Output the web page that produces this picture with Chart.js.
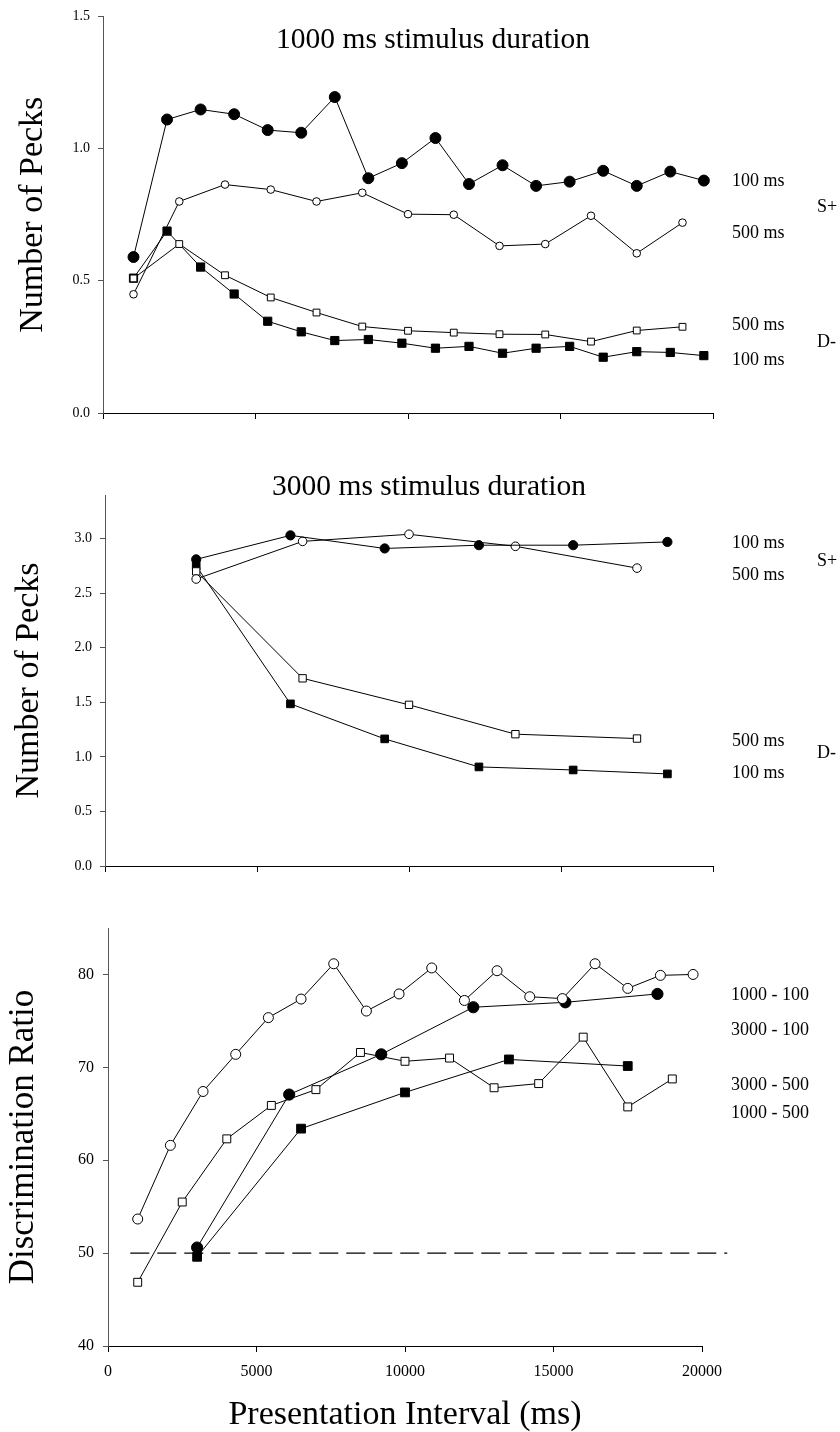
<!DOCTYPE html>
<html><head><meta charset="utf-8">
<script src="https://cdn.jsdelivr.net/npm/chart.js@4"></script>
<style>
body{margin:0;background:#fff;width:840px;height:1432px;position:relative;overflow:hidden;font-family:'Liberation Serif','Times New Roman',serif;color:#000;}
canvas{position:absolute;left:0;}
.lbl{position:absolute;font-size:18px;line-height:18px;white-space:nowrap;transform:translateY(-50%);}
.ttl{position:absolute;font-size:29.5px;line-height:30px;white-space:nowrap;transform:translate(-50%,-50%);}
</style></head><body>
<canvas id="cA" width="840" height="440" style="top:0px;width:840px;height:440px"></canvas>
<canvas id="cB" width="840" height="440" style="top:460px;width:840px;height:440px"></canvas>
<canvas id="cC" width="840" height="532" style="top:900px;width:840px;height:532px"></canvas>
<script>
// ---------- DATA ----------
// x positions (ms)
const xFine   = [1000,2100,3200,4300,5400,6500,7600,8700,9800,10900,12000,13100,14200,15300,16400,17500,18600,19700];
const xCoarse = [1000,2500,4000,5500,7000,8500,10000,11500,13000,14500,16000,17500,19000];
const xB100   = [3000,6100,9200,12300,15400,18500];
const xB500   = [3000,6500,10000,13500,17500];

// Panel A: 1000 ms stimulus duration (number of pecks)
const aSplus100 = [0.59,1.11,1.148,1.13,1.07,1.06,1.195,0.888,0.945,1.04,0.866,0.937,0.859,0.875,0.916,0.859,0.913,0.879];
const aSplus500 = [0.449,0.80,0.864,0.845,0.80,0.833,0.752,0.75,0.632,0.639,0.746,0.604,0.72];
const aDminus500 = [0.509,0.639,0.521,0.437,0.38,0.327,0.311,0.304,0.298,0.297,0.27,0.312,0.326];
const aDminus100 = [0.51,0.688,0.552,0.45,0.347,0.307,0.274,0.278,0.264,0.245,0.252,0.226,0.245,0.252,0.211,0.232,0.229,0.217];

// Panel B: 3000 ms stimulus duration (number of pecks)
const bSplus100 = [2.81,3.03,2.91,2.94,2.94,2.97];
const bSplus500 = [2.63,2.975,3.04,2.93,2.73];
const bDminus500 = [2.70,1.72,1.477,1.208,1.168];
const bDminus100 = [2.75,1.486,1.165,0.908,0.88,0.844];

// Panel C: discrimination ratio
const c1000_100 = [53.67,61.6,67.4,71.4,75.35,77.35,81.15,76.06,77.9,80.7,77.2,80.4,77.6,77.4,81.15,78.5,79.9,80.0];
const c1000_500 = [46.86,55.5,62.3,65.9,67.6,71.6,70.65,71.0,67.8,68.25,73.25,65.74,68.75];
const c3000_100 = [50.6,67.07,71.4,76.47,77.0,77.9];
const c3000_500 = [49.6,63.4,67.3,70.85,70.14];
const chanceX = [750,20850];
const chanceY = [50,50];

// tick labels
const xTicks  = [0,5000,10000,15000,20000];
const yTicksA = [0,0.5,1.0,1.5];
const yTicksB = [0,0.5,1.0,1.5,2.0,2.5,3.0];
const yTicksC = [40,50,60,70,80];

// texts
const titleA = '1000 ms stimulus duration';
const titleB = '3000 ms stimulus duration';
const yTitleAB = 'Number of Pecks';
const yTitleC = 'Discrimination Ratio';
const xTitleC = 'Presentation Interval (ms)';
const labelsA = ['100 ms','500 ms','S+','500 ms','100 ms','D-'];
const labelsB = ['100 ms','500 ms','S+','500 ms','100 ms','D-'];
const labelsC = ['1000 - 100','3000 - 100','3000 - 500','1000 - 500'];

// ---------- LAYOUT / STYLE ----------
const FONT = "'Liberation Serif','Times New Roman',serif";
const posA = [[732,180],[732,232],[817,206],[732,324],[732,359],[817,341]];
const posB = [[732,542],[732,574],[817,560],[732,740],[732,772],[817,752]];
const posC = [[731,994],[731,1029],[731,1084],[731,1112]];

function addText(cls, text, x, y){
  const d = document.createElement('div');
  d.className = cls; d.textContent = text;
  d.style.left = x + 'px'; d.style.top = y + 'px';
  document.body.appendChild(d);
}
labelsA.forEach((t,i)=>addText('lbl', t, posA[i][0], posA[i][1]));
labelsB.forEach((t,i)=>addText('lbl', t, posB[i][0], posB[i][1]));
labelsC.forEach((t,i)=>addText('lbl', t, posC[i][0], posC[i][1]));
addText('ttl', titleA, 433, 38);
addText('ttl', titleB, 429, 485);

function pts(xs, ys){ return xs.map((x,i)=>({x:x, y:ys[i]})); }
function series(xs, ys, shape, filled, r){
  return {
    data: pts(xs, ys), borderColor:'#000', borderWidth:1, fill:false, tension:0,
    pointStyle: shape, pointRadius: r, pointHoverRadius: r,
    pointBackgroundColor: filled ? '#000' : '#fff', pointBorderColor:'#000', pointBorderWidth:1
  };
}

function makeChart(id, cfg){
  const yAxisColor = '#555';
  new Chart(document.getElementById(id), {
    type:'line',
    data:{ datasets: cfg.datasets },
    options:{
      responsive:false, animation:false, events:[],
      layout:{ padding: cfg.padding },
      plugins:{ legend:{display:false}, tooltip:{enabled:false}, title:{display:false} },
      scales:{
        x:{
          type:'linear', min:0, max:20000,
          afterBuildTicks: s => { s.ticks = xTicks.map(v=>({value:v})); },
          afterFit: s => { s.height = cfg.xHeight; },
          border:{display:true, color:'#000', width:1},
          grid:{drawOnChartArea:false, drawTicks:true, tickLength:6, color:'#000', lineWidth:1},
          ticks:{display: cfg.xLabels, autoSkip:false, maxRotation:0, color:'#000', padding:10,
                 font:{family:FONT, size:16}, callback: v => String(v)},
          title: cfg.xTitle ? {display:true, text:cfg.xTitle, color:'#000',
                 font:{family:FONT, size:34, lineHeight:1}, padding:{top:0,bottom:0}} : {display:false}
        },
        y:{
          type:'linear', min:cfg.yMin, max:cfg.yMax,
          afterBuildTicks: s => { s.ticks = cfg.yTicks.map(v=>({value:v})); },
          afterFit: s => { s.width = cfg.yWidth; },
          border:{display:true, color:yAxisColor, width:1},
          grid:{drawOnChartArea:false, drawTicks:true, tickLength:5, color:yAxisColor, lineWidth:1},
          ticks:{autoSkip:false, color:'#000', padding:cfg.yPad, font:{family:FONT, size:cfg.yFont},
                 callback: cfg.yFmt},
          title:{display:true, text:cfg.yTitle, color:'#000',
                 font:{family:FONT, size:cfg.yTitleSize, lineHeight:1}, padding:{top:cfg.yTitlePad, bottom:0}}
        }
      }
    }
  });
}

makeChart('cA', {
  padding:{left:0, top:15, right:127, bottom:0}, xHeight:27, yWidth:103,
  xLabels:false, yMin:0, yMax:1.5, yTicks:yTicksA, yFont:14, yPad:8,
  yFmt: v => Number(v).toFixed(1), yTitle:yTitleAB, yTitleSize:34, yTitlePad:16,
  datasets:[
    series(xFine, aSplus100, 'circle', true, 5.5),
    series(xCoarse, aSplus500, 'circle', false, 3.8),
    series(xCoarse, aDminus500, 'rect', false, 4.8),
    series(xFine, aDminus100, 'rect', true, 5.8)
  ]
});

makeChart('cB', {
  padding:{left:0, top:35, right:127, bottom:0}, xHeight:34, yWidth:105,
  xLabels:false, yMin:0, yMax:3.4, yTicks:yTicksB, yFont:14, yPad:8,
  yFmt: v => Number(v).toFixed(1), yTitle:yTitleAB, yTitleSize:34, yTitlePad:12,
  datasets:[
    series(xB100, bSplus100, 'circle', true, 4.6),
    series(xB500, bSplus500, 'circle', false, 4.3),
    series(xB500, bDminus500, 'rect', false, 5.2),
    series(xB100, bDminus100, 'rect', true, 5.4)
  ]
});

const chance = {
  data: pts(chanceX, chanceY), borderColor:'#000', borderWidth:1.2, borderDash:[19,8],
  pointRadius:0, fill:false, clip:false
};
makeChart('cC', {
  padding:{left:0, top:28, right:138, bottom:0}, xHeight:86, yWidth:108,
  xLabels:true, xTitle:xTitleC, yMin:40, yMax:85, yTicks:yTicksC, yFont:16, yPad:9,
  yFmt: v => String(v), yTitle:yTitleC, yTitleSize:35, yTitlePad:6,
  datasets:[
    series(xFine, c1000_100, 'circle', false, 5),
    series(xB100, c3000_100, 'circle', true, 5.6),
    series(xCoarse, c1000_500, 'rect', false, 5.6),
    series(xB500, c3000_500, 'rect', true, 6.2),
    chance
  ]
});
</script>
</body></html>
